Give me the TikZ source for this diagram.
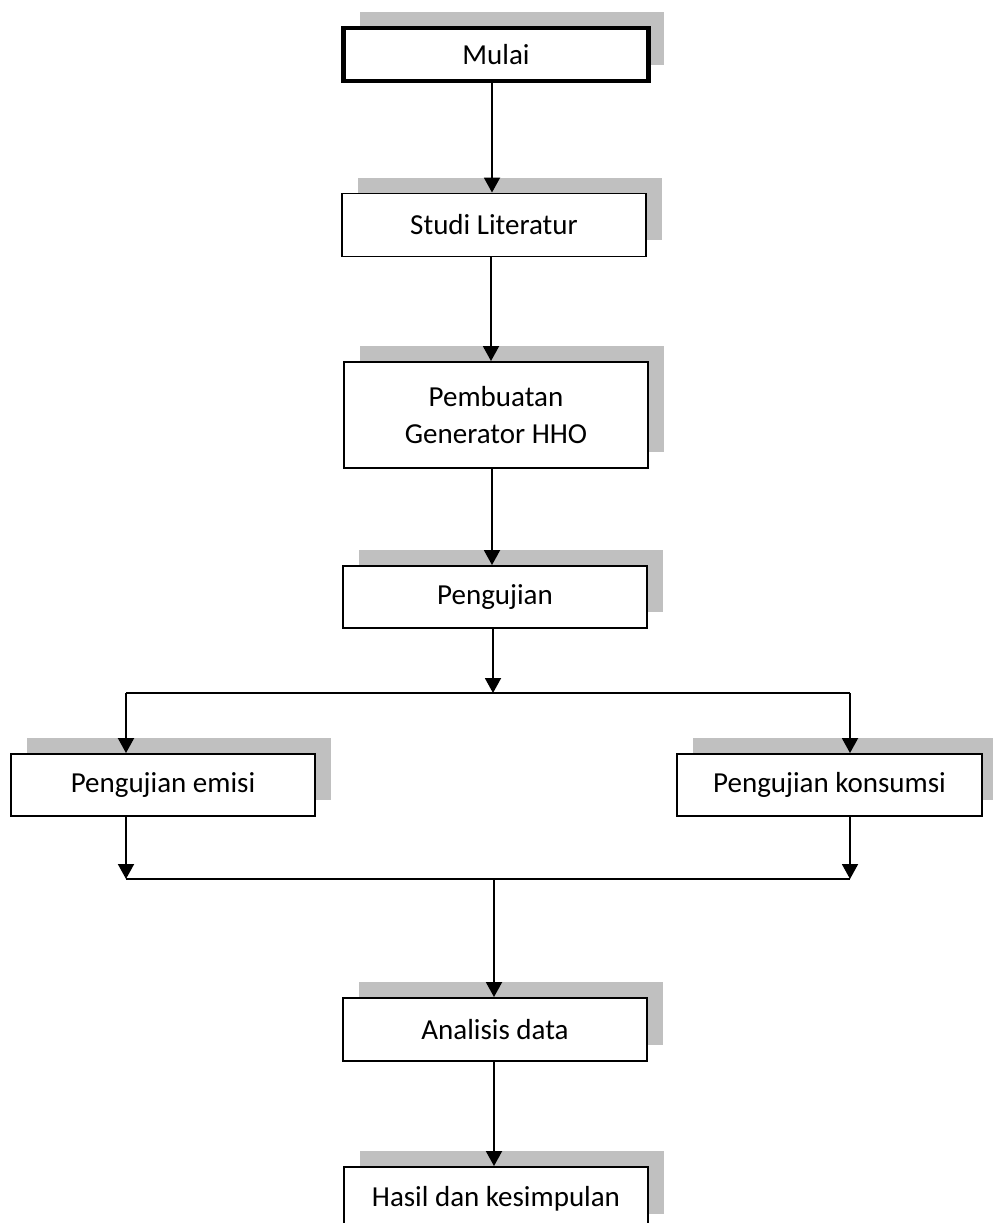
\documentclass[tikz,border=0pt]{standalone}
\usepackage{fontspec}
\setmainfont{Carlito}
\usetikzlibrary{arrows.meta,shadows}
\definecolor{shadowgray}{HTML}{C0C0C0}
\tikzset{
  box/.style={draw=black, fill=white, line width=1.1pt, minimum width=6.08cm, minimum height=1.26cm,
    inner sep=0pt, align=center, font=\fontsize{16.5}{21}\selectfont,
    general shadow={fill=shadowgray, shadow xshift=0.32cm, shadow yshift=0.32cm}},
  startbox/.style={box, line width=2.8pt, minimum width=6.1cm, minimum height=1.06cm},
  conn/.style={line width=1.1pt},
  arr/.style={conn, -{Triangle[width=0.32cm,length=0.3cm]}}
}
\begin{document}
\begin{tikzpicture}[x=0.02cm,y=-0.02cm]
\useasboundingbox (0,0) rectangle (993,1223);
\clip (0,0) rectangle (993,1223);
\node[startbox] (mulai) at (496,54.5) {Mulai};
\node[box] (studi) at (494,225) {Studi Literatur};
\node[box, minimum height=2.12cm] (pembuatan) at (496,415) {Pembuatan\\Generator HHO};
\node[box, minimum height=1.24cm] (uji) at (495,597) {Pengujian};
\node[box, minimum height=1.24cm] (emisi) at (163,785) {Pengujian emisi};
\node[box, minimum height=1.24cm, minimum width=6.1cm] (konsumsi) at (829.5,785) {Pengujian konsumsi};
\node[box] (analisis) at (495,1029.5) {Analisis data};
\node[box] (hasil) at (496,1198.5) {Hasil dan kesimpulan};

\coordinate (split) at (493,693);
\coordinate (splitL) at (126,693);
\coordinate (splitR) at (850,693);
\coordinate (mergeL) at (126,879);
\coordinate (mergeR) at (850,879);
\coordinate (merge) at (494,879);

\draw[arr] (mulai.south -| 492,0) -- (studi.north -| 492,0);
\draw[arr] (studi.south -| 491,0) -- (pembuatan.north -| 491,0);
\draw[arr] (pembuatan.south -| 492,0) -- (uji.north -| 492,0);
\draw[arr] (uji.south -| split) -- (split);
\draw[conn] (splitL) -- (splitR);
\draw[arr] (splitL) -- (splitL |- emisi.north);
\draw[arr] (splitR) -- (splitR |- konsumsi.north);
\draw[arr] (splitL |- emisi.south) -- (mergeL);
\draw[arr] (splitR |- konsumsi.south) -- (mergeR);
\draw[conn] (mergeL) -- (mergeR);
\draw[arr] (merge) -- (merge |- analisis.north);
\draw[arr] (analisis.south -| merge) -- (merge |- hasil.north);
\end{tikzpicture}
\end{document}
